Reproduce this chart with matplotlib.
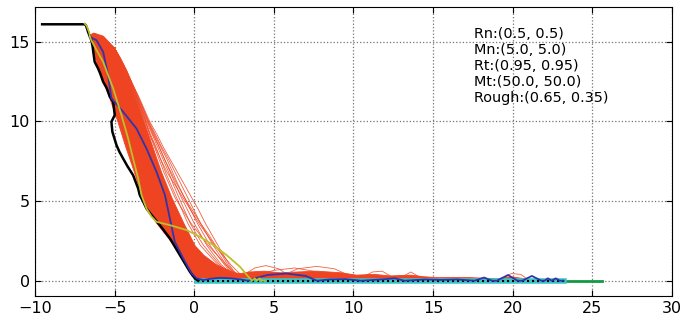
import numpy as np
import matplotlib
matplotlib.use('Agg')
import matplotlib.pyplot as plt

# measured profile (black)
black_x = [-9.55, -6.86, -6.81, -6.72, -6.67, -6.46, -6.38, -6.31, -6.25, -6.04, -5.9, -5.72, -5.5, -5.3,
           -5.09, -4.99, -5.2, -5.14, -4.88, -4.7, -4.47, -4.2, -3.84, -3.52, -3.42, -3.2, -3.0, -2.68,
           -2.16, -1.53, -0.9, -0.27, 0.04, 0.25]
black_y = [16.1, 16.1, 16.05, 15.8, 15.63, 15.1, 14.7, 14.16, 13.74, 13.33, 13.0, 12.49, 12.1, 11.55,
           11.23, 10.4, 9.98, 9.35, 8.51, 8.1, 7.68, 7.2, 6.63, 5.79, 5.38, 4.95, 4.54, 4.12,
           3.49, 2.66, 1.61, 0.56, 0.15, 0.0]

# mean fit (blue)
blue_x = [-6.56, -6.14, -5.72, -5.41, -5.2, -4.47, -3.63, -3.0, -2.37, -1.84, -1.53, -1.22, -0.69, -0.17,
          0.15, 0.57, 1.0, 1.6, 2.3, 2.9, 3.4, 3.8, 4.6, 5.8, 7.0, 7.7, 8.5, 9.5, 10.5, 12.0, 12.6,
          13.2, 14.5, 15.5, 16.5, 17.6, 18.2, 18.7, 19.0, 19.7, 20.3, 20.6, 21.2, 21.8, 22.0, 22.2,
          22.45, 22.7, 22.95, 23.2]
blue_y = [15.31, 15.1, 14.37, 12.91, 11.44, 10.61, 9.56, 8.3, 6.84, 5.38, 3.91, 2.45, 1.4, 0.46,
          0.15, 0.04, 0.12, 0.18, 0.15, 0.08, 0.0, 0.15, 0.36, 0.45, 0.3, 0.0, 0.08, 0.1, 0.0, 0.1, 0.15,
          0.0, 0.08, 0.05, 0.08, 0.0, 0.2, 0.0, 0.0, 0.36, 0.0, 0.0, 0.3, 0.0, 0.0, 0.15,
          0.0, 0.15, 0.0, 0.0]

# best fit (yellow)
yellow_x = [-6.88, -6.75, -6.6, -6.52, -6.2, -5.72, -5.09, -4.57, -4.15, -3.84, -3.52, -3.31, -3.0, -2.7,
            -2.37, -1.53, -0.48, 0.36, 1.19, 2.03, 2.87, 3.4, 3.63, 3.8, 3.95, 4.1, 4.25, 4.4]
yellow_y = [16.15, 16.0, 15.6, 15.21, 14.6, 13.74, 12.07, 10.4, 8.93, 7.68, 6.42, 5.38, 4.54, 4.05,
            3.7, 3.49, 3.18, 2.76, 2.24, 1.61, 0.88, 0.25, 0.0, 0.15, 0.0, 0.15, 0.0, 0.0]

# ensemble core (red, dense part)
core_left_x = [-6.6, -6.35, -6.0, -5.35, -4.8, -4.3, -3.75, -3.25, -2.35, -1.25, -0.5, -0.15, 0.3]
core_left_y = [15.4, 14.6, 13.2, 11.6, 10.0, 8.4, 6.8, 5.2, 3.6, 2.2, 1.0, 0.3, 0.0]
core_right_x = [-6.3, -5.7, -5.0, -4.35, -3.7, -3.15, -2.6, -2.05, -1.4, -0.65, 0.05, 0.6, 1.4, 2.5, 2.9]
core_right_y = [15.55, 15.35, 14.6, 13.2, 11.6, 10.0, 8.4, 6.8, 5.2, 3.6, 2.2, 1.6, 1.0, 0.5, 0.45]
band_x = [3.5, 4.4, 5.4, 6.5, 7.7, 9.2, 10.2, 11.3, 12.3, 13.6, 14.4, 15.3, 17.2, 19.0, 19.9, 20.9, 21.5]
band_y = [0.55, 0.6, 0.5, 0.55, 0.6, 0.5, 0.35, 0.4, 0.3, 0.35, 0.25, 0.2, 0.2, 0.12, 0.25, 0.1, 0.0]

# ensemble fringe members (red, thin)
fringe_y = [15.5, 15.1, 14.6, 13.9, 13.2, 12.4, 11.6, 10.8, 10.0, 9.2, 8.4, 7.6, 6.8, 6.0, 5.2, 4.4,
            3.6, 2.9, 2.2, 1.6, 1.0, 0.6, 0.3]
fringe_x = [
    [-6.3, -5.7, -5.0, -4.65, -4.3, -4.0, -3.65, -3.35, -3.05, -2.75, -2.4, -2.1, -1.8, -1.45, -1.1, -0.75,
     -0.4, 0.0, 0.4, 0.95, 1.5, 2.0, 2.5],
    [-6.3, -5.7, -5.0, -4.65, -4.3, -3.95, -3.6, -3.3, -2.95, -2.6, -2.2, -1.85, -1.5, -1.15, -0.8, -0.4,
     0.0, 0.4, 0.8, 1.25, 1.7, 2.15, 2.6],
    [-6.3, -5.7, -5.0, -4.6, -4.25, -3.9, -3.55, -3.2, -2.85, -2.45, -2.05, -1.6, -1.2, -0.8, -0.4, 0.0,
     0.4, 0.8, 1.2, 1.6, 2.0, 2.35, 2.7],
    [-6.3, -5.7, -5.0, -4.6, -4.25, -3.9, -3.5, -3.15, -2.8, -2.35, -1.95, -1.5, -1.05, -0.6, -0.15, 0.3,
     0.7, 1.1, 1.5, 1.85, 2.2, 2.5, 2.8],
    [-6.3, -5.7, -5.0, -4.65, -4.3, -4.0, -3.65, -3.3, -3.0, -2.65, -2.3, -1.95, -1.6, -1.3, -0.95, -0.6,
     -0.25, 0.15, 0.6, 1.1, 1.6, 2.0, 2.4],
    [-6.3, -5.7, -5.0, -4.65, -4.3, -3.95, -3.6, -3.25, -2.9, -2.5, -2.1, -1.7, -1.35, -1.0, -0.6, -0.2,
     0.2, 0.6, 1.0, 1.45, 1.9, 2.25, 2.6],
    [-6.3, -5.7, -5.0, -4.65, -4.3, -4.0, -3.65, -3.35, -3.05, -2.8, -2.5, -2.2, -1.9, -1.55, -1.2, -0.7,
     -0.2, 0.35, 0.9, 1.45, 2.0, 2.4, 2.8],
    [-6.3, -5.7, -5.0, -4.65, -4.3, -4.0, -3.65, -3.4, -3.1, -2.8, -2.45, -2.1, -1.7, -1.2, -0.7, -0.2,
     0.3, 0.8, 1.3, 1.8, 2.3, 2.7, 3.0],
    [-6.3, -5.7, -5.0, -4.6, -4.25, -3.9, -3.55, -3.2, -2.9, -2.55, -2.2, -1.85, -1.45, -1.05, -0.6, -0.1,
     0.4, 0.9, 1.35, 1.75, 2.1, 2.45, 2.75],
]

# small arcs above the floor
arcs = [
    ([3.0, 3.8, 4.5, 5.3, 6.0], [0.3, 0.8, 0.95, 0.75, 0.3]),
    ([5.5, 6.5, 7.7, 8.8, 9.8], [0.3, 0.75, 0.9, 0.75, 0.3]),
    ([4.0, 5.0, 6.3, 7.5, 8.5], [0.4, 0.65, 0.8, 0.6, 0.3]),
    ([10.5, 11.2, 11.8, 12.4], [0.2, 0.55, 0.6, 0.25]),
    ([13.0, 13.6, 14.2], [0.2, 0.55, 0.2]),
    ([19.3, 19.9, 20.5, 21.0], [0.1, 0.45, 0.4, 0.05]),
]

floor_cyan = [0.17, 23.2]
floor_dots = [0.5, 23.2]
floor_green = [0.3, 25.6]

label = "Rn:(0.5, 0.5)\nMn:(5.0, 5.0)\nRt:(0.95, 0.95)\nMt:(50.0, 50.0)\nRough:(0.65, 0.35)"

red = '#ee4422'

fig = plt.figure(figsize=(6.83, 3.22), dpi=100)
ax = fig.add_axes([0.0512, 0.0807, 0.9327, 0.8963])

poly_x = core_left_x + [21.5] + band_x[::-1] + core_right_x[::-1]
poly_y = core_left_y + [0.0] + band_y[::-1] + core_right_y[::-1]
ax.fill(poly_x, poly_y, color=red, lw=0.6, zorder=2)
for fx in fringe_x:
    ax.plot(fx, fringe_y, color=red, lw=0.6, alpha=0.85, zorder=2)
for axs, ays in arcs:
    ax.plot(axs, ays, color=red, lw=0.6, alpha=0.85, zorder=2)

ax.plot(floor_green, [0, 0], color='#119944', lw=2, zorder=3)
ax.plot(floor_cyan, [0, 0], color='#3cc4c4', lw=4, zorder=4)
ax.plot(floor_dots, [0, 0], color='k', lw=1.5, linestyle=(0, (1, 1.4)), zorder=5)
ax.plot(black_x, black_y, color='k', lw=1.8, zorder=6)
ax.plot(blue_x, blue_y, color='#3333aa', lw=1.3, zorder=7)
ax.plot(yellow_x, yellow_y, color='#bcc02a', lw=1.3, zorder=8)

ax.text(17.55, 15.95, label, fontsize=10.4, va='top', ha='left', zorder=9)

ax.set_xlim(-10, 30)
ax.set_ylim(-0.96, 17.16)
ax.set_xticks([-10, -5, 0, 5, 10, 15, 20, 25, 30])
ax.set_yticks([0, 5, 10, 15])
ax.grid(True, color='0.45', linestyle=':', lw=0.9)
ax.tick_params(direction='in', top=True, right=True, length=4, labelsize=11.5)
ax.set_axisbelow(True)

fig.savefig('out.png', dpi=100)
